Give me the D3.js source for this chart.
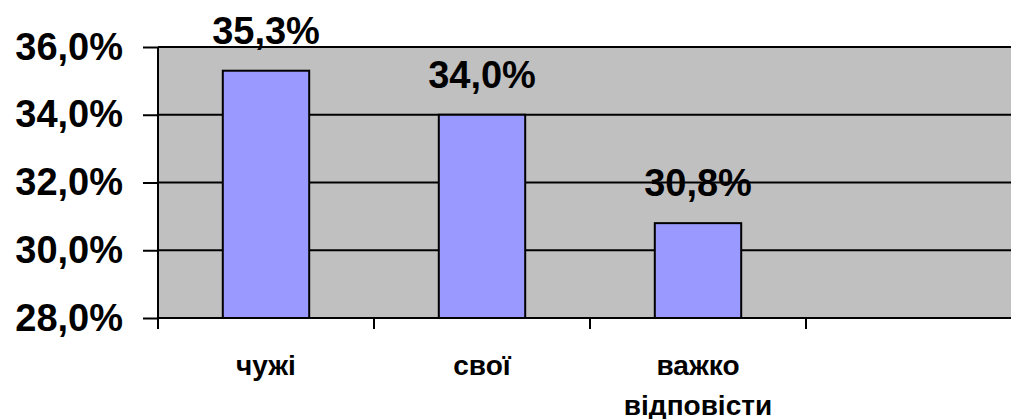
<!DOCTYPE html>
<html><head><meta charset="utf-8">
<script src="https://cdn.jsdelivr.net/npm/d3@7/dist/d3.min.js"></script>
<style>html,body{margin:0;padding:0;background:#fff;overflow:hidden}svg{display:block}text{font-family:"Liberation Sans",Arial,sans-serif;font-weight:bold;fill:#000}</style>
</head><body>
<svg id="c" width="1011" height="419"></svg>
<script>
const categories = ["чужі", "свої", "важко відповісти", ""];
const values = [35.3, 34.0, 30.8, null];
const valueLabels = ["35,3%", "34,0%", "30,8%", ""];
const yTicks = [28, 30, 32, 34, 36];
const yTickLabels = ["28,0%", "30,0%", "32,0%", "34,0%", "36,0%"];

const svg = d3.select("#c");
const pLeft = 158, pRight = 1022, pTop = 47, pBottom = 318;
const x = d3.scaleBand().domain(d3.range(categories.length)).range([pLeft, pRight]).paddingInner(0).paddingOuter(0);
const y = d3.scaleLinear().domain([28, 36]).range([pBottom, pTop]);

svg.append("rect").attr("x", pLeft).attr("y", pTop).attr("width", pRight - pLeft).attr("height", pBottom - pTop).attr("fill", "#c0c0c0");

// gridlines
svg.append("g").selectAll("line").data(yTicks.filter(t => t > 28)).join("line")
  .attr("x1", pLeft).attr("x2", pRight).attr("y1", d => y(d)).attr("y2", d => y(d))
  .attr("stroke", "#000").attr("stroke-width", 2);

// bars
const bw = x.bandwidth() * 0.4;
const bars = categories.map((c, i) => ({i, v: values[i], l: valueLabels[i]})).filter(d => d.v != null);
svg.append("g").selectAll("rect").data(bars).join("rect")
  .attr("x", d => x(d.i) + (x.bandwidth() - bw) / 2)
  .attr("y", d => y(d.v)).attr("width", bw).attr("height", d => y(28) - y(d.v))
  .attr("fill", "#9999ff").attr("stroke", "#000").attr("stroke-width", 2);

// y axis
const yAxis = svg.append("g").attr("transform", `translate(${pLeft},0)`)
  .call(d3.axisLeft(y).tickValues(yTicks).tickSize(15).tickPadding(20).tickFormat((d, i) => yTickLabels[i]));
yAxis.select(".domain").attr("stroke", "#000").attr("stroke-width", 2).attr("d", `M0,${pTop}V${pBottom}`);
yAxis.selectAll(".tick line").attr("stroke", "#000").attr("stroke-width", 2);
yAxis.selectAll(".tick text").attr("font-size", 38).attr("font-family", "Liberation Sans, Arial, sans-serif").attr("font-weight", "bold").attr("fill", "#000");

// x axis
const xAxis = svg.append("g").attr("transform", `translate(0,${pBottom})`)
  .call(d3.axisBottom(x).tickSize(0).tickFormat(""));
xAxis.select(".domain").attr("stroke", "#000").attr("stroke-width", 2).attr("d", `M${pLeft},0H${pRight}`);
xAxis.selectAll(".tick").remove();
const bounds = d3.range(categories.length + 1).map(i => i < categories.length ? x(i) : x(i - 1) + x.bandwidth());
xAxis.selectAll("line.tk").data(bounds).join("line").attr("class", "tk")
  .attr("x1", d => d).attr("x2", d => d).attr("y1", 0).attr("y2", 11)
  .attr("stroke", "#000").attr("stroke-width", 2);

// category labels
const catG = svg.append("g");
categories.forEach((c, i) => {
  if (!c) return;
  const t = catG.append("text").attr("x", x(i) + x.bandwidth() / 2).attr("y", 375)
    .attr("text-anchor", "middle").attr("font-size", 28);
  const words = c.split(" ");
  words.forEach((w, j) => t.append("tspan").attr("x", x(i) + x.bandwidth() / 2).attr("dy", j === 0 ? 0 : 40).text(w));
});

// value labels
svg.append("g").selectAll("text").data(bars).join("text")
  .attr("x", d => x(d.i) + x.bandwidth() / 2).attr("y", d => y(d.v) - 27)
  .attr("text-anchor", "middle").attr("font-size", 38).text(d => d.l);
</script>
</body></html>
